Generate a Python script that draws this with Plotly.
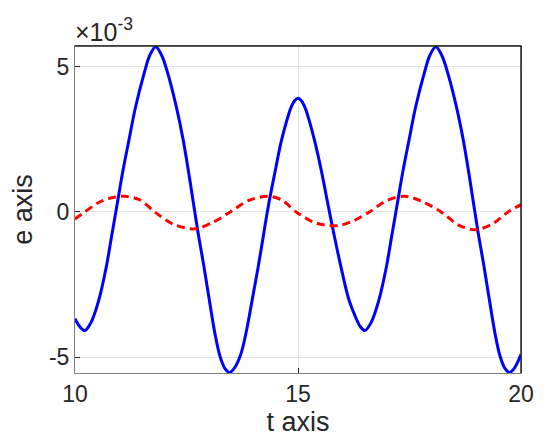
import plotly.graph_objects as go

# values (e in units of 1e-3)
t_blue = [10.00, 10.11, 10.22, 10.36, 10.53, 10.70, 10.83, 10.96, 11.06, 11.21, 11.36, 11.55, 11.68, 11.81,
          11.94, 12.08, 12.27, 12.425, 12.55, 12.65, 12.76, 12.89, 13.01, 13.135, 13.25, 13.36, 13.465,
          13.57, 13.71, 13.84, 13.97, 14.10, 14.22, 14.34, 14.48, 14.62, 14.74, 14.84, 14.92, 15.00,
          15.08, 15.16, 15.26, 15.38, 15.52, 15.66, 15.80, 15.96, 16.14, 16.30, 16.40, 16.50,
          16.64, 16.81, 16.98, 17.11, 17.24, 17.34, 17.49, 17.64, 17.83, 17.96, 18.09,
          18.22, 18.36, 18.55, 18.705, 18.83, 18.93, 19.04, 19.17, 19.29, 19.415, 19.53, 19.64, 19.745,
          19.85, 20.00]
e_blue = [-3.67, -3.95, -4.08, -3.80, -3.05, -1.90, -0.75, 0.40, 1.30, 2.48, 3.63, 4.77, 5.40, 5.68,
          5.40, 4.77, 3.63, 2.48, 1.34, 0.35, -0.72, -1.87, -3.01, -4.16, -4.96, -5.38, -5.52,
          -5.38, -4.93, -4.12, -3.05, -1.95, -0.85, 0.25, 1.34, 2.40, 3.10, 3.58, 3.82, 3.91,
          3.82, 3.58, 3.10, 2.40, 1.45, 0.35, -0.72, -1.87, -3.01, -3.65, -3.95, -4.08,
          -3.80, -3.05, -1.90, -0.75, 0.40, 1.30, 2.48, 3.63, 4.77, 5.40, 5.68,
          5.40, 4.77, 3.63, 2.48, 1.34, 0.35, -0.72, -1.87, -3.01, -4.16, -4.96, -5.38, -5.52,
          -5.38, -4.90]

t_red = [10.00, 10.22, 10.50, 10.80, 11.12, 11.45, 11.79, 12.20, 12.69, 13.10, 13.48, 13.90, 14.34,
         14.65, 14.96, 15.40, 15.90, 16.25, 16.60, 17.00, 17.40, 17.80, 18.21, 18.60, 18.97,
         19.34, 19.71, 20.00]
e_red = [-0.24, 0.00, 0.30, 0.48, 0.54, 0.42, 0.00, -0.42, -0.58, -0.35, 0.00, 0.40, 0.54,
         0.40, 0.00, -0.38, -0.47, -0.30, 0.00, 0.40, 0.54, 0.35, 0.00, -0.45, -0.61,
         -0.43, 0.00, 0.25]

x_ticks = [10, 15, 20]
y_ticks = [-5, 0, 5]
y_tick_labels = ["-5", "0", "5"]

FONT = "Liberation Sans, Arial, Helvetica, sans-serif"

fig = go.Figure()
fig.add_trace(go.Scatter(x=t_blue, y=e_blue, mode="lines",
                         line=dict(color="#0000ff", width=3, shape="spline", smoothing=1.0),
                         showlegend=False, hoverinfo="skip"))
fig.add_trace(go.Scatter(x=t_red, y=e_red, mode="lines",
                         line=dict(color="#ff0000", width=3, dash="8px,5px", shape="spline", smoothing=0.9),
                         showlegend=False, hoverinfo="skip"))

# page body has an 8px margin, so the figure is sized 542x440 and offset accordingly
fig.update_layout(
    width=542, height=440,
    margin=dict(l=67, r=29, t=38, b=75, autoexpand=False),
    paper_bgcolor="white", plot_bgcolor="white",
    font=dict(family=FONT, color="#262626", size=23),
    xaxis=dict(range=[10, 20], tickvals=x_ticks, ticktext=[str(v) for v in x_ticks],
               showgrid=True, gridcolor="#e3e3e3", gridwidth=1, zeroline=False,
               showline=True, linecolor="#7f7f7f", linewidth=1, mirror=True,
               ticks="inside", ticklen=5, tickcolor="#262626", automargin=False,
               tickfont=dict(size=23, family=FONT, color="#262626"),
               title=dict(text="t axis", font=dict(size=27, family=FONT, color="#262626"), standoff=6)),
    yaxis=dict(range=[-5.54, 5.71], tickvals=y_ticks, ticktext=y_tick_labels,
               showgrid=True, gridcolor="#e3e3e3", gridwidth=1, zeroline=False,
               showline=True, linecolor="#7f7f7f", linewidth=1, mirror=True,
               ticks="inside", ticklen=5, tickcolor="#262626", automargin=False,
               tickfont=dict(size=23, family=FONT, color="#262626"),
               title=dict(text="e axis", font=dict(size=27, family=FONT, color="#262626"), standoff=15)),
)

# darker top and right box edges (MATLAB style)
fig.add_shape(type="line", xref="paper", yref="paper", x0=0, x1=1, y0=1, y1=1,
              line=dict(color="#262626", width=1.5))
fig.add_shape(type="line", xref="paper", yref="paper", x0=1, x1=1, y0=0, y1=1,
              line=dict(color="#262626", width=1.5))

fig.add_annotation(text="×10<sup>-3</sup>", xref="paper", yref="paper", x=0.0, y=1.0,
                   xanchor="left", yanchor="bottom", showarrow=False, yshift=-2, xshift=-2,
                   font=dict(size=25, family=FONT, color="#262626"))

fig.write_html("out.html")
